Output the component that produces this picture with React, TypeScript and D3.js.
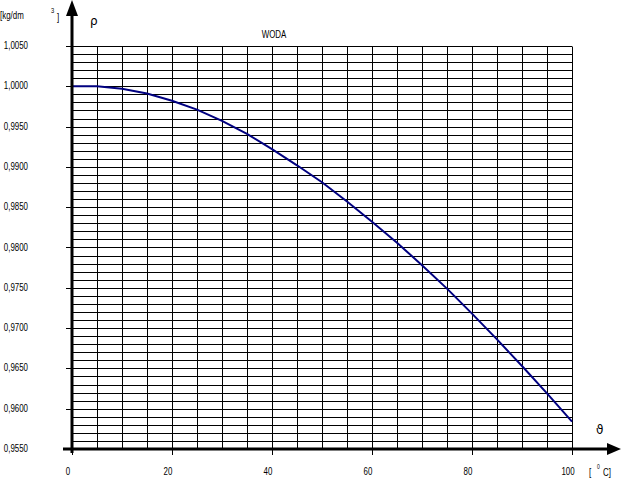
import React from "react";
import * as d3 from "d3";

const temps = [0, 5, 10, 15, 20, 25, 30, 35, 40, 45, 50, 55, 60, 65, 70, 75, 80, 85, 90, 95, 100];
const density = [1.0, 1.0, 0.9997, 0.9991, 0.9982, 0.9971, 0.9957, 0.9941, 0.9922, 0.9902, 0.9881, 0.9857, 0.9832, 0.9806, 0.9778, 0.9749, 0.9718, 0.9686, 0.9653, 0.9619, 0.9584];
const yTicks = [0.955, 0.96, 0.965, 0.97, 0.975, 0.98, 0.985, 0.99, 0.995, 1.0, 1.005];
const xTicks = [0, 20, 40, 60, 80, 100];
const title = "WODA";

const W = 621;
const H = 485;
const FONT = "'Liberation Sans', Arial, sans-serif";
const SX = 0.72;

function NText(props: {
  x: number;
  y: number;
  size?: number;
  anchor?: "start" | "middle" | "end";
  children: React.ReactNode;
}) {
  const { x, y, size = 11, anchor = "start", children } = props;
  return (
    <text
      transform={`translate(${x},${y}) scale(${SX},1)`}
      fontSize={size}
      textAnchor={anchor}
      fill="#000"
    >
      {children}
    </text>
  );
}

export default function App() {
  const x = d3.scaleLinear().domain([0, 100]).range([72, 572]);
  const y = d3.scaleLinear().domain([0.955, 1.005]).range([449, 46]);
  const px = (v: number) => Math.round(x(v)) + 0.5;
  const py = (v: number) => Math.round(y(v)) + 0.5;

  const vGrid = d3.range(5, 101, 5);
  const hGrid = d3.range(956, 1006, 1).map((v) => v / 1000);

  const line = d3
    .line<number>()
    .x((_, i) => x(temps[i]))
    .y((d) => y(d));

  const fmt = (v: number) => v.toFixed(4).replace(".", ",");

  return (
    <svg
      width={W}
      height={H}
      style={{ position: "absolute", left: 0, top: 0, background: "#fff" }}
      fontFamily={FONT}
    >
      <rect x={0} y={0} width={W} height={H} fill="#fff" />
      {/* grid */}
      {hGrid.map((v) => (
        <line key={"h" + v} x1={72} x2={572} y1={py(v)} y2={py(v)} stroke="#000" strokeWidth={1} />
      ))}
      {vGrid.map((v) => (
        <line key={"v" + v} x1={px(v)} x2={px(v)} y1={py(1.005)} y2={449} stroke="#000" strokeWidth={1} />
      ))}
      {/* y tick marks */}
      {yTicks.map((v) => (
        <line key={"yt" + v} x1={66} x2={72} y1={py(v)} y2={py(v)} stroke="#000" strokeWidth={1} />
      ))}
      {/* x tick marks */}
      {xTicks.map((v) => (
        <line key={"xt" + v} x1={px(v)} x2={px(v)} y1={449} y2={455} stroke="#000" strokeWidth={1} />
      ))}
      {/* curve */}
      <path d={line(density) || ""} fill="none" stroke="#000080" strokeWidth={2} />
      {/* axes */}
      <line x1={72} x2={72} y1={14} y2={453} stroke="#000" strokeWidth={3} />
      <polygon points="72,0 66,16 78,16" fill="#000" />
      <line x1={63} x2={608} y1={449} y2={449} stroke="#000" strokeWidth={3} />
      <polygon points="621,449 607,443 607,455" fill="#000" />
      {/* y labels */}
      {yTicks.map((v) => (
        <NText key={"yl" + v} x={28} y={y(v) + 3} anchor="end">
          {fmt(v)}
        </NText>
      ))}
      {/* x labels */}
      {xTicks.map((v) => (
        <NText key={"xl" + v} x={x(v) - 4} y={475} anchor="middle">
          {v}
        </NText>
      ))}
      {/* axis titles */}
      <NText x={0} y={19}>[kg/dm</NText>
      <NText x={51} y={13} size={8}>3</NText>
      <NText x={57} y={21}>]</NText>
      <text x={90} y={25} fontSize={12} fill="#000" fontFamily="'DejaVu Sans', sans-serif">ρ</text>
      <NText x={274} y={38} anchor="middle">{title}</NText>
      <text x={596} y={434} fontSize={12} fill="#000" fontFamily="'DejaVu Sans', sans-serif">ϑ</text>
      <NText x={589} y={476}>[</NText>
      <NText x={597} y={469} size={7}>0</NText>
      <NText x={603} y={476}>C]</NText>
    </svg>
  );
}
